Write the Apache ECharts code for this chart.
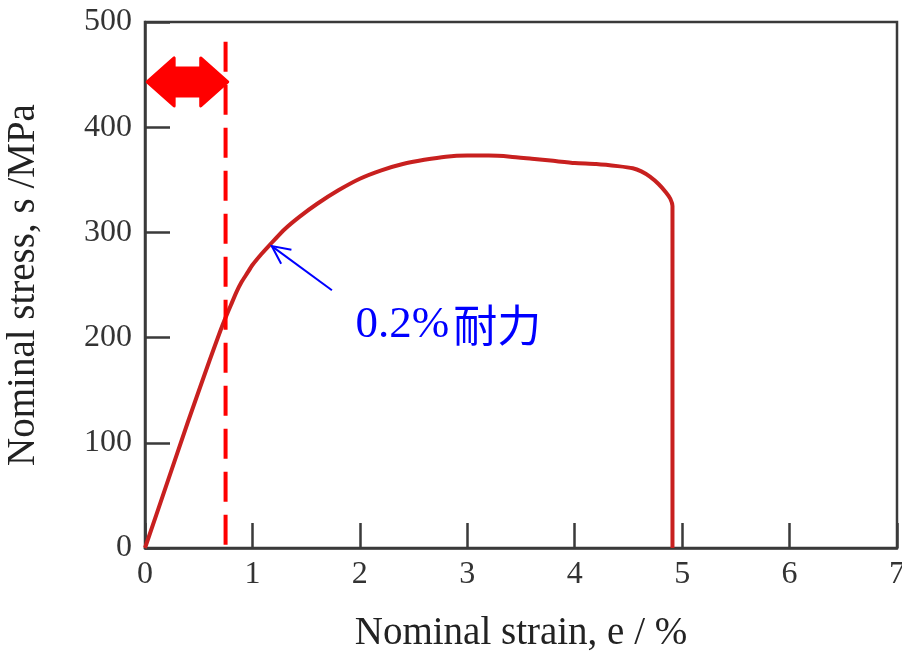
<!DOCTYPE html>
<html>
<head>
<meta charset="utf-8">
<script src="https://cdn.jsdelivr.net/npm/echarts@6/dist/echarts.min.js"></script>
<style>html,body{margin:0;padding:0;background:#fff}#c{width:902px;height:654px}</style>
</head>
<body>
<div id="c"></div>
<script>
// Data
const strain = [0, 0.2, 0.4, 0.6, 0.7, 0.75, 0.8, 0.85, 0.9, 0.95, 1.0, 1.08, 1.16, 1.3, 1.44, 1.6, 1.8, 2.0, 2.2, 2.4, 2.6, 2.8, 3.0, 3.2, 3.4, 3.6, 3.8, 4.0, 4.2, 4.4, 4.54, 4.62, 4.7, 4.78, 4.85, 4.89, 4.91, 4.91];
const stress = [0, 60, 120, 178, 206, 219, 231, 243, 253, 261, 269, 279, 288, 303, 315, 327, 340, 351, 359, 365, 369, 372, 373, 373, 372, 370, 368, 366, 365, 363, 361, 358, 353, 346, 338, 332, 325, 0];
const xTicks = [0, 1, 2, 3, 4, 5, 6, 7];
const yTicks = [0, 100, 200, 300, 400, 500];
const offsetStrain = 0.75;          // dashed marker line
const rangeArrow = [0.02, 0.77, 443]; // double arrow: from, to, stress level
const proofPoint = [1.18, 287];      // annotation arrow tip
const labelAnchor = [1.74, 245];     // annotation arrow tail
const labelPos = [1.96, 212];        // annotation text left/center
const labelNum = '0.2%';
const labelJa = '耐力';

const curve = strain.map((s, i) => [s, stress[i]]);

const chart = echarts.init(document.getElementById('c'), null, {renderer: 'canvas'});
const serif = 'Liberation Serif, Times New Roman, serif';

chart.setOption({
  animation: false,
  backgroundColor: '#fff',
  grid: {left: 145, right: 5, top: 22, bottom: 106, outerBoundsMode: 'none', containLabel: false,
         show: true, borderColor: '#3a3a3a', borderWidth: 2.5, backgroundColor: 'transparent'},
  xAxis: {
    type: 'value', min: xTicks[0], max: xTicks[xTicks.length - 1], interval: 1,
    name: 'Nominal strain, e / %', nameLocation: 'middle', nameGap: 66,
    nameTextStyle: {fontFamily: serif, fontSize: 39, color: '#222'},
    axisLine: {show: true, lineStyle: {color: '#3a3a3a', width: 2.5}},
    axisTick: {show: true, inside: true, length: 25, lineStyle: {color: '#3a3a3a', width: 2.5}},
    axisLabel: {fontFamily: serif, fontSize: 32, color: '#333', margin: 11},
    splitLine: {show: false}
  },
  yAxis: {
    type: 'value', min: yTicks[0], max: yTicks[yTicks.length - 1], interval: 100,
    name: 'Nominal stress, s /MPa', nameLocation: 'middle', nameGap: 102, nameRotate: 90,
    nameTextStyle: {fontFamily: serif, fontSize: 39, color: '#222'},
    axisLine: {show: true, lineStyle: {color: '#3a3a3a', width: 2.5}},
    axisTick: {show: true, inside: true, length: 25, lineStyle: {color: '#3a3a3a', width: 2.5}},
    axisLabel: {fontFamily: serif, fontSize: 32, color: '#333', margin: 13},
    splitLine: {show: false}
  },
  series: [
    {
      type: 'line', data: curve, showSymbol: false, smooth: 0.2,
      lineStyle: {color: '#c8201f', width: 4}, z: 3
    },
    {
      type: 'line', data: [[offsetStrain, 3], [offsetStrain, 492]], showSymbol: false,
      lineStyle: {color: '#ff0000', width: 4, type: [30, 13]}, z: 4
    },
    {
      type: 'custom', data: [rangeArrow], z: 5,
      renderItem: function (params, api) {
        const a = api.coord([api.value(0), api.value(2)]);
        const b = api.coord([api.value(1), api.value(2)]);
        const y = a[1], hl = 27, hh = 24, sh = 14;
        return {
          type: 'polygon',
          shape: {points: [
            [a[0], y], [a[0] + hl, y - hh], [a[0] + hl, y - sh], [b[0] - hl, y - sh], [b[0] - hl, y - hh],
            [b[0], y], [b[0] - hl, y + hh], [b[0] - hl, y + sh], [a[0] + hl, y + sh], [a[0] + hl, y + hh]
          ]},
          style: {fill: '#ff0000', lineJoin: 'round', stroke: '#ff0000', lineWidth: 3}
        };
      }
    },
    {
      type: 'custom', data: [[proofPoint[0], proofPoint[1], labelAnchor[0], labelAnchor[1], labelPos[0], labelPos[1]]], z: 6,
      renderItem: function (params, api) {
        const tip = api.coord([api.value(0), api.value(1)]);
        const tail = api.coord([api.value(2), api.value(3)]);
        const tp = api.coord([api.value(4), api.value(5)]);
        const ang = Math.atan2(tail[1] - tip[1], tail[0] - tip[0]);
        const L = 20, w = 0.45;
        const p1 = [tip[0] + L * Math.cos(ang + w), tip[1] + L * Math.sin(ang + w)];
        const p2 = [tip[0] + L * Math.cos(ang - w), tip[1] + L * Math.sin(ang - w)];
        return {
          type: 'group',
          children: [
            {type: 'line', shape: {x1: tail[0], y1: tail[1], x2: tip[0], y2: tip[1]}, style: {stroke: '#0000ff', lineWidth: 2}},
            {type: 'polyline', shape: {points: [p1, tip, p2]}, style: {stroke: '#0000ff', lineWidth: 2, fill: null}},
            {type: 'text', x: tp[0], y: tp[1], style: {
              text: '{a|' + labelNum + '}{b|' + labelJa + '}',
              verticalAlign: 'middle', align: 'left',
              rich: {
                a: {fontFamily: serif, fontSize: 45, fill: '#0000ff', color: '#0000ff'},
                b: {fontFamily: 'Noto Sans CJK JP', fontSize: 44, fontWeight: 'normal', fill: '#0000ff', color: '#0000ff', padding: [0, 0, 0, 4]}
              }
            }}
          ]
        };
      }
    }
  ]
});
</script>
</body>
</html>
